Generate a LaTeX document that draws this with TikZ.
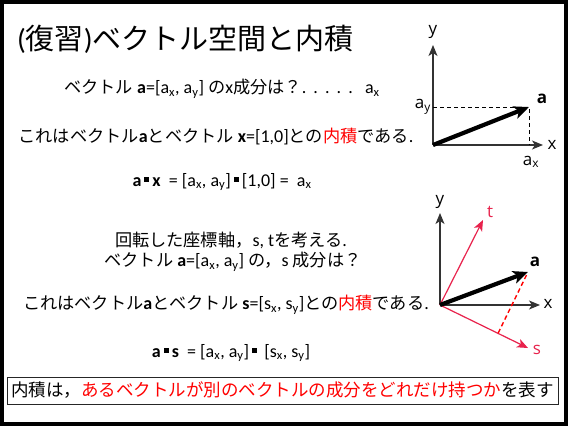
\documentclass[tikz,border=0pt]{standalone}
\usepackage{fontspec}
\setmainfont{Carlito}
\newfontfamily\jp[Scale=0.955]{Noto Sans CJK JP}
\newfontfamily\jpt{Noto Sans CJK JP}
\newfontfamily\lab{Open Sans}
\usetikzlibrary{arrows.meta,calc}
\definecolor{axred}{HTML}{E8224C}
\newcommand{\subs}[1]{\textsubscript{#1}}
\newcommand{\sq}{\,\rule[0.22em]{0.28em}{0.28em}\,}
\begin{document}
\begin{tikzpicture}[x=1pt,y=-1pt,
  txt/.style={inner sep=0pt, font=\fontsize{18}{20}\selectfont},
  axisarrow/.style={draw=black!80, line width=1.4pt, -{Stealth[length=11pt,width=9pt,inset=3pt]}},
  redarrow/.style={draw=axred, line width=1.2pt, -{Stealth[length=11pt,width=9pt,inset=3pt]}},
  vecarrow/.style={draw=black, line width=4.2pt, -{Stealth[length=15pt,width=13pt,inset=4pt]}},
  lbl/.style={inner sep=0pt, font=\lab\fontsize{17}{19}\selectfont},
]
\useasboundingbox (0,0) rectangle (568,426);
\fill[white] (0,0) rectangle (568,426);
\draw[line width=4pt] (2,2) rectangle (566,423.5);

% title
\node[anchor=west, inner sep=0pt, font=\fontsize{29}{32}\selectfont] (title) at (17,39) {({\jpt 復習}){\jpt ベクトル空間と内積}};

% text lines
\node[txt] (l1) at (222,89) {{\jp ベクトル} \textbf{a}=[a\subs{x}, a\subs{y}] {\jp の}x{\jp 成分は？}.\,\ .\,\ .\,\ .\,\ .\ \ \ a\subs{x}};
\node[txt] (l2) at (216,137) {{\jp これはベクトル}\textbf{a}{\jp とベクトル} \textbf{x}=[1,0]{\jp との}{\jp\color{red}内積}{\jp である}.};
\node[txt] (l3) at (222,182) {\textbf{a}\sq\textbf{x} \ = [a\subs{x}, a\subs{y}]\sq[1,0] = \ a\subs{x}};
\node[txt] (l4) at (231,240) {{\jp 回転した座標軸，}s, t{\jp を考える}.};
\node[txt] (l5) at (233,262) {{\jp ベクトル} \textbf{a}=[a\subs{x}, a\subs{y}] {\jp の，}s {\jp 成分は？}};
\node[txt] (l6) at (226,305) {{\jp これはベクトル}\textbf{a}{\jp とベクトル} \textbf{s}=[s\subs{x}, s\subs{y}]{\jp との}{\jp\color{red}内積}{\jp である}.};
\node[txt] (l7) at (231,353) {\textbf{a}\sq\textbf{s} \ = [a\subs{x}, a\subs{y}]\sq\ [s\subs{x}, s\subs{y}]};

% bottom box
\node[draw=black!85, line width=0.9pt, minimum width=551pt, minimum height=27pt, inner sep=0pt,
      font=\jpt\fontsize{17.5}{20}\selectfont] (box) at (282.5,390.5)
  {内積は，{\color{red}あるベクトルが別のベクトルの成分をどれだけ持つか}を表す};

% diagram 1
\coordinate (o1) at (433,145);
\coordinate (y1tip) at (433,45);
\coordinate (x1tip) at (543,145);
\coordinate (a1tip) at (529,107);
\coordinate (ay1) at (433,107);
\coordinate (ax1) at (529,145);
\draw[axisarrow] (o1) -- (y1tip);
\draw[axisarrow] (o1) -- (x1tip);
\draw[dashed, line width=0.9pt, dash pattern=on 4pt off 3pt] (ay1) -- (a1tip) -- (ax1);
\draw[vecarrow] (o1) -- (a1tip);
\node[lbl] (y1lab) at (433,32) {y};
\node[lbl] (x1lab) at (552,145) {x};
\node[lbl, anchor=east] (ay1lab) at (431,107) {a\subs{y}};
\node[lbl] (ax1lab) at (531,162) {a\subs{x}};
\node[lbl, font=\lab\bfseries\fontsize{17}{19}\selectfont] (a1lab) at (542,99) {a};

% diagram 2
\coordinate (o2) at (440,305);
\coordinate (y2tip) at (440,213);
\coordinate (x2tip) at (540,305);
\coordinate (t2tip) at (483,220);
\coordinate (s2tip) at (528,348);
\coordinate (a2tip) at (528,272);
\coordinate (foot) at ($(o2)!(a2tip)!(s2tip)$);
\draw[axisarrow] (o2) -- (y2tip);
\draw[axisarrow] (o2) -- (x2tip);
\draw[redarrow] (o2) -- (t2tip);
\draw[redarrow] (o2) -- (s2tip);
\draw[vecarrow] (o2) -- (a2tip);
\draw[red, line width=1.4pt, dash pattern=on 4.5pt off 3pt] ($(a2tip)!0.05!(foot)$) -- (foot);
\node[lbl] (y2lab) at (440,202) {y};
\node[lbl] (x2lab) at (548,304) {x};
\node[lbl, text=axred] (t2lab) at (490,212) {t};
\node[lbl, text=axred] (s2lab) at (537,350) {s};
\node[lbl, font=\lab\bfseries\fontsize{17}{19}\selectfont] (a2lab) at (535,262) {a};
\end{tikzpicture}
\end{document}
